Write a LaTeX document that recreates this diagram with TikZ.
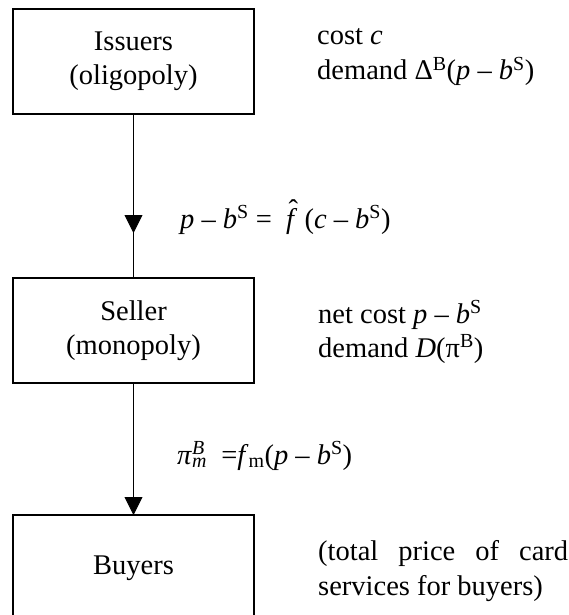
\documentclass[tikz,border=0pt]{standalone}
\usepackage{fontspec}
\setmainfont{Liberation Serif}
\usetikzlibrary{arrows.meta}
\newcommand\mysup[1]{\textsuperscript{#1}}
\newcommand\mysub[1]{\textsubscript{#1}}
\begin{document}
\begin{tikzpicture}[x=1pt,y=-1pt,
  every node/.style={font=\fontsize{28.5}{34}\selectfont, inner sep=0pt},
  boxnode/.style={draw, line width=1.4pt, minimum width=241pt, minimum height=105pt, align=center},
  conn/.style={line width=0.9pt},
  tipped/.style={line width=0.9pt, -{Triangle[length=18pt,width=18pt]}},
  side/.style={anchor=base west}]
\useasboundingbox (0,0) rectangle (569,615);
\clip (0,0) rectangle (569,615);
\node[boxnode] (iss) at (133.5,61.5) {Issuers\\(oligopoly)};
\node[boxnode] (sel) at (133.5,330.5) {Seller\\(monopoly)};
\node[boxnode, minimum height=106pt] (buy) at (133.5,568) {Buyers};
\coordinate (tip1) at (133.5,233);
\coordinate (tip2) at (133.5,515);
\draw[conn] (iss.south) -- (sel.north);
\draw[tipped] (iss.south) -- (tip1);
\draw[tipped] (sel.south) -- (tip2);
\node[side] (t1) at (317,45) {cost \textit{c}};
\node[side] (t2) at (317,80) {demand Δ\mysup{B}(\textit{p} – \textit{b}\mysup{S})};
\node[side] (f1) at (180,228) {\textit{p} – \textit{b}\mysup{S} = \ \makebox[0pt][l]{\hspace{0.08em}\raisebox{0.3em}{ˆ}}\textit{f} (\textit{c} – \textit{b}\mysup{S})};
\node[side] (t3) at (318,323) {net cost \textit{p} – \textit{b}\mysup{S}};
\node[side] (t4) at (318,357) {demand \textit{D}(π\mysup{B})};
\node[side] (f2) at (177,464) {\textit{π}\makebox[0pt][l]{\mysup{\textit{B}}}\mysub{\textit{m}}\ \ =\textit{f}\mysub{m}(\textit{p} – \textit{b}\mysup{S})};
\node[side] (t5) at (318,560) {\makebox[250pt][s]{(total price of card}};
\node[side] (t6) at (318,595) {services for buyers)};
\end{tikzpicture}
\end{document}
